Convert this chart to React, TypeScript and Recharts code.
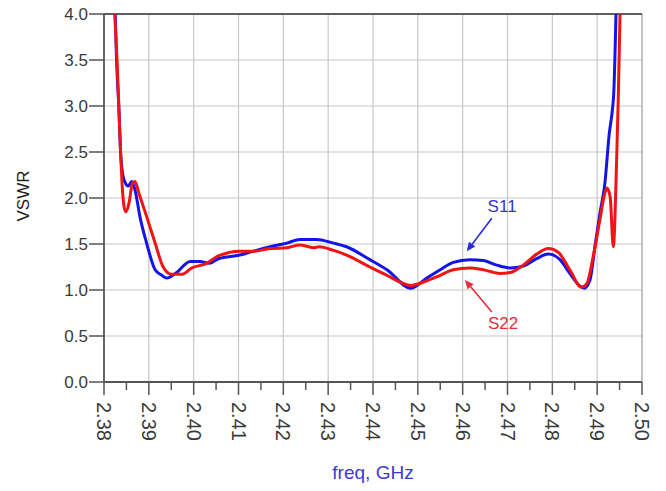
import { CartesianGrid, Label, Line, LineChart, ReferenceDot, ReferenceLine, XAxis, YAxis } from 'recharts';

const font = 'Liberation Sans, Arial, sans-serif';

// S11 trace (blue)
const freqS11 = [
  2.3825, 2.3828, 2.3833, 2.3837, 2.3842, 2.3847, 2.3854, 2.3862, 2.387, 2.388, 2.3895, 2.3914, 2.3929, 2.394,
  2.3962, 2.3992, 2.4014, 2.4036, 2.4055, 2.4103, 2.4132, 2.417, 2.4208, 2.4237, 2.4274, 2.4312, 2.4341, 2.4393,
  2.4431, 2.4485, 2.452, 2.455, 2.4579, 2.4616, 2.4646, 2.4676, 2.4706, 2.4735, 2.4765, 2.4791, 2.4817, 2.4839,
  2.4862, 2.4871, 2.4884, 2.4895, 2.4906, 2.4917, 2.4927, 2.4934, 2.4937, 2.4942,
];
const vswrS11 = [
  4.0, 3.5, 3.0, 2.5, 2.25, 2.17, 2.13, 2.18, 2.07, 1.8, 1.51, 1.22, 1.16, 1.13, 1.19, 1.31, 1.31, 1.29, 1.34, 1.38,
  1.42, 1.47, 1.51, 1.55, 1.55, 1.51, 1.47, 1.33, 1.22, 1.02, 1.13, 1.22, 1.3, 1.33, 1.32, 1.27, 1.24, 1.26, 1.34,
  1.39, 1.33, 1.18, 1.04, 1.02, 1.11, 1.47, 1.83, 2.15, 2.7, 2.96, 3.14, 4.0,
];

// S22 trace (red)
const freqS22 = [
  2.3824, 2.3829, 2.3833, 2.3837, 2.3841, 2.3845, 2.3849, 2.3856, 2.3863, 2.3869, 2.3878, 2.3895, 2.3914, 2.3932,
  2.3951, 2.3973, 2.3996, 2.4029, 2.4055, 2.4103, 2.4132, 2.417, 2.4208, 2.4237, 2.4267, 2.428, 2.4312, 2.4341,
  2.4393, 2.4431, 2.4485, 2.452, 2.455, 2.4579, 2.4616, 2.4646, 2.4683, 2.4706, 2.4735, 2.4765, 2.4791, 2.4813,
  2.4839, 2.4865, 2.4877, 2.4891, 2.4906, 2.4917, 2.4922, 2.4929, 2.4936, 2.4943, 2.4947, 2.4951,
];
const vswrS22 = [
  4.0, 3.5, 3.0, 2.5, 2.1, 1.9, 1.85, 1.95, 2.15, 2.18, 2.05, 1.8, 1.51, 1.25, 1.17, 1.17, 1.24, 1.29, 1.37, 1.42,
  1.42, 1.45, 1.46, 1.49, 1.46, 1.47, 1.43, 1.38, 1.25, 1.16, 1.05, 1.1, 1.16, 1.22, 1.24, 1.22, 1.18, 1.19, 1.27,
  1.39, 1.45, 1.41, 1.22, 1.03, 1.07, 1.36, 1.76, 2.05, 2.11, 2.01, 1.47, 2.34, 3.07, 4.0,
];

const xTicks = [
  2.38, 2.385, 2.39, 2.395, 2.4, 2.405, 2.41, 2.415, 2.42, 2.425, 2.43, 2.435, 2.44, 2.445, 2.45, 2.455, 2.46,
  2.465, 2.47, 2.475, 2.48, 2.485, 2.49, 2.495, 2.5,
];
const xGrid = [2.39, 2.4, 2.41, 2.42, 2.43, 2.44, 2.45, 2.46, 2.47, 2.48, 2.49];
const yTicks = [0, 0.5, 1.0, 1.5, 2.0, 2.5, 3.0, 3.5, 4.0];

// annotation arrows: [from, to] and label positions
const s11Arrow = [{ x: 2.4665, y: 1.78 }, { x: 2.4609, y: 1.42 }];
const s22Arrow = [{ x: 2.4665, y: 0.76 }, { x: 2.4605, y: 1.11 }];
const s11Label = { x: 2.4688, y: 1.91 };
const s22Label = { x: 2.469, y: 0.64 };

const s11Data = freqS11.map((f, i) => ({ f, v: vswrS11[i] }));
const s22Data = freqS22.map((f, i) => ({ f, v: vswrS22[i] }));

const XTick = ({ x, y, payload }: any) => {
  const major = Math.round(payload.value * 1000) % 10 === 0;
  return (
    <g>
      <line x1={x} y1={y} x2={x} y2={y + (major ? 13 : 8)} stroke="#555" strokeWidth={1.5} />
      {major && (
        <text
          transform={`translate(${x},${y + 20}) rotate(90)`}
          textAnchor="start"
          dominantBaseline="central"
          fontSize={20}
          fill="#3a3a3a"
          fontFamily={font}
        >
          {payload.value.toFixed(2)}
        </text>
      )}
    </g>
  );
};

const arrowShape = (color: string) => (props: any) => {
  const { x1, y1, x2, y2 } = props;
  const a = Math.atan2(y2 - y1, x2 - x1);
  const len = 9;
  const w = 4;
  const bx = x2 - len * Math.cos(a);
  const by = y2 - len * Math.sin(a);
  const px = -Math.sin(a) * w;
  const py = Math.cos(a) * w;
  return (
    <g>
      <line x1={x1} y1={y1} x2={bx} y2={by} stroke={color} strokeWidth={1.6} />
      <polygon points={`${x2},${y2} ${bx + px},${by + py} ${bx - px},${by - py}`} fill={color} />
    </g>
  );
};

const textLabel = (text: string, color: string) => (props: any) => {
  const vb = props.viewBox;
  return (
    <text x={vb.x} y={vb.y} textAnchor="middle" dominantBaseline="central" fontSize={17} fill={color} fontFamily={font}>
      {text}
    </text>
  );
};

export default function App() {
  return (
    <div style={{ marginTop: -8 }}>
      <LineChart width={650} height={483} margin={{ top: 14, right: 16, left: 0, bottom: 0 }}>
        <CartesianGrid vertical={false} stroke="#c8c8c8" strokeWidth={1.2} />
        {xGrid.map((g) => (
          <ReferenceLine key={g} x={g} stroke="#c8c8c8" strokeWidth={1.2} />
        ))}
        <ReferenceLine x={2.5} stroke="#9a9a9a" strokeWidth={1.2} />
        <ReferenceLine y={4} stroke="#333" strokeWidth={1.6} />
        <XAxis
          dataKey="f"
          type="number"
          domain={[2.38, 2.5]}
          allowDataOverflow
          ticks={xTicks}
          interval={0}
          tick={<XTick />}
          tickLine={false}
          tickSize={0}
          tickMargin={0}
          height={101}
          axisLine={{ stroke: '#555', strokeWidth: 1.8 }}
        >
          <Label
            value="freq, GHz"
            position="insideBottom"
            offset={4}
            fontSize={19}
            fill="#3a3ad0"
            fontFamily={font}
          />
        </XAxis>
        <YAxis
          type="number"
          domain={[0, 4]}
          allowDataOverflow
          ticks={yTicks}
          interval={0}
          tickFormatter={(v: number) => v.toFixed(1)}
          tick={{ fontSize: 17, fill: '#3a3a3a', fontFamily: font }}
          tickSize={15}
          tickMargin={1}
          tickLine={{ stroke: '#555', strokeWidth: 1.5 }}
          width={96}
          axisLine={{ stroke: '#555', strokeWidth: 1.8 }}
        >
          <Label
            content={(p: any) => (
              <text
                transform={`translate(${p.viewBox.x + 15},${p.viewBox.y + p.viewBox.height / 2 - 2}) rotate(-90)`}
                textAnchor="middle"
                dominantBaseline="central"
                fontSize={17}
                fill="#222"
                fontFamily={font}
              >
                VSWR
              </text>
            )}
          />
        </YAxis>
        <Line
          data={s11Data}
          dataKey="v"
          type="monotone"
          stroke="#1414e6"
          strokeWidth={3}
          dot={false}
          isAnimationActive={false}
        />
        <Line
          data={s22Data}
          dataKey="v"
          type="monotone"
          stroke="#f01414"
          strokeWidth={3}
          dot={false}
          isAnimationActive={false}
        />
        <ReferenceLine segment={s11Arrow} shape={arrowShape('#2a2ad8')} />
        <ReferenceLine segment={s22Arrow} shape={arrowShape('#e0303a')} />
        <ReferenceDot x={s11Label.x} y={s11Label.y} r={0} stroke="none" label={textLabel('S11', '#3535c8')} />
        <ReferenceDot x={s22Label.x} y={s22Label.y} r={0} stroke="none" label={textLabel('S22', '#e0303a')} />
      </LineChart>
    </div>
  );
}
